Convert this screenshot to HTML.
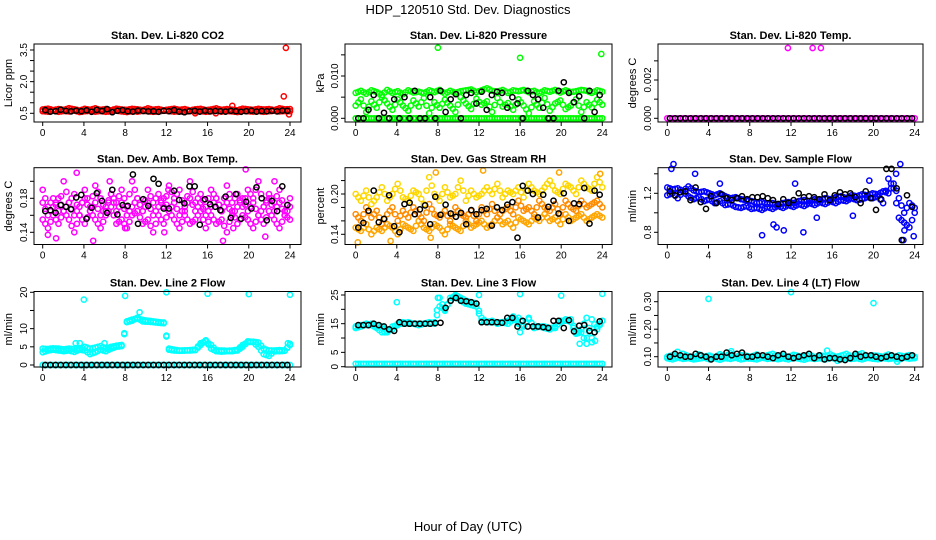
<!DOCTYPE html>
<html><head><meta charset="utf-8"><style>
html,body{margin:0;padding:0;background:#fff;}
svg{display:block;font-family:"Liberation Sans",Arial,sans-serif;}
</style></head><body>
<svg id="chart" width="936" height="540" viewBox="0 0 936 540" xmlns="http://www.w3.org/2000/svg">
<rect width="936" height="540" fill="#fff"/>
<text x="468" y="14" font-size="13" text-anchor="middle">HDP_120510  Std. Dev. Diagnostics</text>
<text x="468" y="531" font-size="13" text-anchor="middle">Hour of Day (UTC)</text>
<g id="panels"></g>
</svg>
<script>
// ---- data ----
const xTicks = [0,4,8,12,16,20,24];
const co2Red1 = [0.68,0.72,0.65,0.7,0.66,0.74,0.69,0.63,0.71,0.67,0.73,0.66,0.7,0.64,0.72,0.68,0.66,0.71,0.69,0.65,0.73,0.67,0.7,0.64,0.68,0.72,0.66,0.7,0.63,0.69,0.71,0.65,0.68,0.73,0.66,0.7,0.67,0.64,0.72,0.69,0.66,0.71,0.68,0.7,0.65,0.73,0.69,0.7];
const co2Red2 = [0.6,0.58,0.62,0.57,0.61,0.59,0.63,0.56,0.6,0.62,0.58,0.61,0.57,0.6,0.63,0.59,0.56,0.61,0.58,0.62,0.6,0.57,0.59,0.63,0.61,0.58,0.6,0.56,0.62,0.59,0.61,0.57,0.6,0.63,0.58,0.61,0.59,0.56,0.62,0.6,0.58,0.61,0.57,0.6,0.62,0.59,0.61,0.6];
const co2Black = [0.65,0.58,0.6,0.67,0.62,0.59,0.63,0.6,0.64,0.57,0.66,0.61,0.7,0.55,0.62,0.65,0.6,0.58,0.63,0.61,0.59,0.6,0.57,0.62,0.6,0.65,0.58,0.55,0.6,0.62,0.58,0.63,0.59,0.61,0.6,0.58,0.62,0.6,0.57,0.6,0.63,0.58,0.61,0.6,0.62,0.59,0.63,0.62];
const co2Out = [[23.6,3.6],[23.4,1.3],[18.4,0.85],[23.9,0.45],[14.8,0.5],[16.8,0.5]];

const presHi = [0.006,0.0065,0.0058,0.0066,0.0062,0.0055,0.0067,0.006,0.0064,0.0057,0.0066,0.0061,0.0063,0.0059,0.0066,0.0062,0.0067,0.0058,0.0065,0.006,0.0064,0.0066,0.0068,0.0062,0.0066,0.0071,0.0065,0.0063,0.0067,0.006,0.0066,0.0064,0.0067,0.0062,0.0065,0.0059,0.0066,0.0063,0.0067,0.0061,0.0066,0.0062,0.0064,0.0067,0.0065,0.006,0.0066,0.0063];
const presMid = [0.003,0.0045,0.0015,0.004,0.0025,0.005,0.0035,0.002,0.0045,0.003,0.0018,0.0042,0.0028,0.0048,0.0012,0.0038,0.0025,0.0044,0.003,0.0015,0.005,0.0035,0.0022,0.0046,0.0032,0.004,0.0015,0.0048,0.0028,0.0036,0.002,0.0045,0.003,0.0012,0.004,0.0025,0.0048,0.0018,0.0035,0.0042,0.0022,0.003,0.0045,0.0015,0.0038,0.0026,0.0044,0.0032];
const presZero = [0,0,0,0,0,0,0,0,0,0,0,0,0,0,0,0,0,0,0,0,0,0,0,0,0,0,0,0,0,0,0,0,0,0,0,0,0,0,0,0,0,0,0,0,0,0,0,0];
const presBlack = [0,0,0.002,0.0055,0,0.0013,0,0.0045,0,0.005,0,0.0065,0,0,0.005,0,0.0065,0.0015,0.0045,0.0057,0,0.0055,0.006,0.0035,0.0063,0.002,0.0055,0.0063,0.006,0.0025,0.005,0.0035,0,0.0065,0.0055,0.0045,0.0025,0,0,0.0065,0.0085,0.006,0.0038,0.0052,0,0.0065,0.0015,0.0055];
const presOut = [[8,0.0167],[16,0.0143],[23.9,0.0152]];

const tempMag = [0,0,0,0,0,0,0,0,0,0,0,0,0,0,0,0,0,0,0,0,0,0,0,0,0,0,0,0,0,0,0,0,0,0,0,0,0,0,0,0,0,0,0,0,0,0,0,0];
const tempBlack = [0,0,0,0,0,0,0,0,0,0,0,0,0,0,0,0,0,0,0,0,0,0,0,0,0,0,0,0,0,0,0,0,0,0,0,0,0,0,0,0,0,0,0,0,0,0,0,0];
const tempOut = [[11.7,0.00367],[14.1,0.00367],[14.9,0.00367]];

const ambA = [0.19,0.17,0.18,0.165,0.2,0.175,0.185,0.16,0.19,0.17,0.195,0.18,0.165,0.185,0.175,0.19,0.17,0.2,0.18,0.165,0.19,0.175,0.185,0.17,0.195,0.18,0.19,0.165,0.2,0.175,0.185,0.17,0.19,0.18,0.165,0.195,0.175,0.185,0.17,0.19,0.18,0.2,0.17,0.185,0.175,0.19,0.165,0.18];
const ambB = [0.155,0.145,0.16,0.15,0.165,0.155,0.14,0.16,0.15,0.165,0.155,0.145,0.16,0.17,0.15,0.155,0.145,0.16,0.165,0.15,0.155,0.14,0.16,0.15,0.165,0.155,0.145,0.16,0.15,0.155,0.165,0.145,0.16,0.15,0.155,0.14,0.165,0.15,0.16,0.155,0.145,0.16,0.15,0.165,0.155,0.145,0.16,0.155];
const ambC = [0.175,0.16,0.17,0.18,0.165,0.175,0.16,0.17,0.18,0.165,0.175,0.16,0.17,0.185,0.165,0.175,0.16,0.17,0.18,0.165,0.175,0.16,0.17,0.18,0.165,0.175,0.16,0.17,0.18,0.165,0.175,0.16,0.17,0.18,0.165,0.175,0.16,0.17,0.18,0.165,0.175,0.16,0.17,0.18,0.165,0.175,0.16,0.17];
const ambBlack = [0.165,0.166,0.163,0.172,0.17,0.167,0.181,0.184,0.156,0.169,0.186,0.177,0.163,0.19,0.161,0.172,0.171,0.208,0.15,0.179,0.171,0.203,0.197,0.168,0.168,0.189,0.178,0.174,0.194,0.194,0.149,0.179,0.173,0.17,0.166,0.182,0.157,0.185,0.156,0.176,0.168,0.193,0.18,0.154,0.177,0.165,0.194,0.172];
const ambOut = [[0.5,0.137],[1.3,0.133],[3.3,0.21],[6.5,0.2],[12.2,0.19],[18.5,0.145],[21.6,0.135],[17.5,0.13],[11.8,0.14],[4.9,0.13],[19.7,0.214],[22.5,0.2],[8,0.145]];

const rhOrA = [0.17,0.16,0.18,0.165,0.175,0.155,0.17,0.18,0.16,0.175,0.165,0.18,0.17,0.16,0.185,0.17,0.165,0.175,0.16,0.18,0.17,0.165,0.175,0.16,0.18,0.17,0.185,0.165,0.175,0.18,0.17,0.19,0.175,0.18,0.17,0.19,0.18,0.175,0.185,0.17,0.19,0.18,0.175,0.19,0.18,0.185,0.19,0.18];
const rhOrB = [0.15,0.145,0.155,0.14,0.15,0.145,0.155,0.15,0.14,0.155,0.15,0.145,0.16,0.15,0.145,0.155,0.15,0.14,0.155,0.15,0.145,0.16,0.15,0.155,0.16,0.15,0.155,0.165,0.155,0.16,0.15,0.165,0.16,0.155,0.165,0.16,0.17,0.16,0.165,0.155,0.17,0.16,0.165,0.17,0.16,0.165,0.17,0.165];
const rhYel = [0.2,0.19,0.205,0.185,0.195,0.21,0.19,0.2,0.215,0.195,0.19,0.205,0.2,0.185,0.225,0.2,0.19,0.21,0.195,0.2,0.22,0.19,0.205,0.195,0.2,0.21,0.2,0.215,0.195,0.205,0.2,0.21,0.195,0.215,0.205,0.2,0.21,0.22,0.205,0.2,0.215,0.21,0.2,0.22,0.21,0.205,0.225,0.21];
const rhBlack = [0.15,0.157,0.175,0.205,0.158,0.163,0.198,0.152,0.143,0.185,0.187,0.17,0.177,0.183,0.155,0.196,0.169,0.184,0.171,0.166,0.172,0.155,0.176,0.17,0.176,0.178,0.153,0.18,0.176,0.184,0.188,0.135,0.212,0.205,0.2,0.165,0.199,0.181,0.19,0.171,0.201,0.16,0.186,0.185,0.209,0.156,0.205,0.199];
const rhOut = [[0.2,0.128],[7.3,0.135],[7.8,0.232],[12.4,0.235],[19.8,0.232],[23.8,0.23],[3.4,0.13]];

const sfA = [1.26,1.24,1.25,1.22,1.27,1.23,1.21,1.22,1.2,1.18,1.2,1.17,1.15,1.16,1.14,1.13,1.12,1.1,1.11,1.09,1.1,1.08,1.1,1.11,1.1,1.12,1.13,1.12,1.14,1.13,1.15,1.14,1.16,1.17,1.15,1.18,1.17,1.19,1.18,1.2,1.19,1.22,1.2,1.3,1.15,1.0,1.1,1.05];
const sfB = [1.18,1.2,1.15,1.22,1.17,1.14,1.16,1.12,1.14,1.1,1.12,1.08,1.09,1.06,1.05,1.07,1.04,1.05,1.03,1.06,1.04,1.07,1.05,1.08,1.06,1.09,1.07,1.1,1.08,1.11,1.09,1.12,1.1,1.13,1.12,1.15,1.13,1.14,1.16,1.15,1.17,1.1,1.35,1.25,0.95,0.9,0.85,1.0];
const sfBlack = [1.22,1.18,1.21,1.22,1.13,1.26,1.11,1.04,1.17,1.1,1.19,1.15,1.13,1.15,1.17,1.14,1.16,1.16,1.17,1.15,1.13,1.09,1.14,1.1,1.13,1.2,1.16,1.17,1.16,1.14,1.19,1.13,1.18,1.21,1.19,1.2,1.16,1.1,1.22,1.15,1.03,1.14,1.45,1.45,1.25,0.72,1.18,1.06];
const sfOut = [[0.4,1.45],[0.6,1.5],[2.7,1.4],[10.3,0.88],[10.6,0.85],[9.2,0.77],[13.2,0.8],[18,0.97],[14.5,0.95],[22.6,1.5],[22.9,0.72],[23,0.82],[23.9,0.76],[11.3,0.82],[5.1,1.3],[12.4,1.3],[19.6,1.33],[22.2,1.4]];

const l2A = [4.5,4.4,4.6,4.5,4.3,4.5,4.4,4.5,5,4.5,4.8,5.2,4.5,5,5.3,5.5,12,12.5,12.8,12.4,12.2,12,11.8,11.7,4.5,4.2,4,4,4.1,4.2,6,6.5,5.5,4,4,3.9,4,4.2,5.5,6.3,6.4,6.2,4.5,4,4,4.1,4,5.5];
const l2B = [3.5,4,4.2,4,3.8,4,3.6,4.2,4,3,3.5,4.2,3.8,4.5,5,5.2,11.8,12.2,13,12,11.9,11.8,11.6,11.5,4.2,4,3.9,4,4,4.1,5.5,6.8,4.5,3.8,3.7,3.8,3.8,4,5,6.5,6.3,5,3,2.5,3.8,3.8,3.9,5.8];
const l2Zero = [0,0,0,0,0,0,0,0,0,0,0,0,0,0,0,0,0,0,0,0,0,0,0,0,0,0,0,0,0,0,0,0,0,0,0,0,0,0,0,0,0,0,0,0,0,0,0,0];
const l2Black = [0,0,0,0,0,0,0,0,0,0,0,0,0,0,0,0,0,0,0,0,0,0,0,0,0,0,0,0,0,0,0,0,0,0,0,0,0,0,0,0,0,0,0,0,0,0,0,0];
const l2Out = [[4,18],[8,19],[12,20],[16,19.6],[20,19.5],[24,19.3],[3.2,6],[3.6,6],[9.4,14.5],[6,6],[23.8,6]];

const l3A = [14,14.5,14.5,15,14.5,14,12.5,13,15,15,15.5,15,15,15,15.5,15,21,20,23,25,24,23,22.5,22,17,15.5,15.5,15.5,15.5,15,16.5,17,14.5,16.5,14,14,14,13.5,13.5,16,16,16.5,12,13,17,10,14,16];
const l3B = [13.5,14,15,14.5,13.5,12,12,14,14.5,15.5,15,15,14.5,15,15,15.5,24,19.5,24,24.5,23,22,21.5,21,16,15.5,16,15,15.5,16,17.5,15,14,17,13.5,14,13.5,13,14,15.5,16.5,15.5,11.5,12,8,16.5,13,16];
const l3Low = [1,1,1,1,1,1,1,1,1,1,1,1,1,1,1,1,1,1,1,1,1,1,1,1,1,1,1,1,1,1,1,1,1,1,1,1,1,1,1,1,1,1,1,1,1,1,1,1];
const l3Black = [14.5,14.5,14.5,15,14.5,14,13,12.5,15.5,15,15,15,15,15,15,15.2,15.3,20.5,23,24,23,22.8,22.5,22,15.5,15.5,15.5,15.5,15.3,17,17,14,16,14,14,14,13.8,13.5,16,16,13.5,16.2,12.3,14.3,14.5,12.5,12,15.8];
const l3Out = [[4,22.5],[8,24],[12,25],[16,25.3],[20,24.8],[24,25.4],[16,12],[21.8,8],[22.5,10],[23,8.5],[23.3,9]];

const l4A = [0.1,0.105,0.098,0.11,0.102,0.095,0.108,0.1,0.104,0.097,0.109,0.101,0.112,0.099,0.106,0.103,0.1,0.108,0.096,0.105,0.11,0.1,0.104,0.098,0.107,0.102,0.1,0.109,0.097,0.105,0.101,0.108,0.099,0.104,0.11,0.1,0.106,0.112,0.098,0.105,0.103,0.1,0.108,0.097,0.105,0.101,0.106,0.1];
const l4B = [0.094,0.09,0.097,0.092,0.095,0.09,0.093,0.096,0.091,0.094,0.089,0.095,0.092,0.096,0.09,0.094,0.093,0.09,0.097,0.092,0.095,0.091,0.094,0.09,0.096,0.093,0.089,0.095,0.092,0.094,0.09,0.096,0.093,0.091,0.095,0.092,0.094,0.09,0.096,0.093,0.091,0.095,0.092,0.094,0.09,0.096,0.093,0.095];
const l4Black = [0.1,0.11,0.105,0.1,0.1,0.11,0.105,0.1,0.09,0.1,0.1,0.115,0.105,0.11,0.115,0.1,0.1,0.105,0.105,0.1,0.095,0.105,0.11,0.1,0.095,0.1,0.105,0.11,0.095,0.105,0.09,0.095,0.095,0.09,0.088,0.095,0.11,0.1,0.105,0.105,0.1,0.095,0.1,0.105,0.1,0.095,0.1,0.105];
const l4Out = [[4,0.31],[12,0.335],[20,0.295],[1,0.118],[6.2,0.12],[15.5,0.122],[22.3,0.082],[16.5,0.085]];

// ---- layout ----
const cols = [{l:34,r:301,x0:42.7,x1:290,yt:8},{l:345,r:612,x0:355.7,x1:602.3,yt:320},{l:658,r:923,x0:667.3,x1:914.7,yt:632}];
const rows = [{t:44,b:122},{t:167.7,b:244.5},{t:291.5,b:367}];
const NS = 'http://www.w3.org/2000/svg';
const root = document.getElementById('panels');
function mk(tag, attrs, parent){const e=document.createElementNS(NS,tag);for(const k in attrs)e.setAttribute(k,attrs[k]);parent.appendChild(e);return e;}

const panels = [
 {name:'co2',title:'Stan. Dev. Li-820 CO2',ylab:'Licor ppm',c:0,r:0,v1:0.5,p1:113.3,v2:3.5,p2:50,ticks:[0.5,1,1.5,2,2.5,3,3.5],labels:['0.5','2.0','3.5'],labelVals:[0.5,2,3.5],
  series:[[co2Red1,'#ff0000'],[co2Red2,'#ff0000']],black:co2Black,out:[co2Out,'#ff0000']},
 {name:'pressure',title:'Stan. Dev. Li-820 Pressure',ylab:'kPa',c:1,r:0,v1:0,p1:118.3,v2:0.01,p2:76,ticks:[0,0.005,0.01,0.015],labels:['0.000','0.010'],labelVals:[0,0.01],
  series:[[presZero,'#00ff00'],[presMid,'#00ff00'],[presHi,'#00ff00']],black:presBlack,out:[presOut,'#00ff00']},
 {name:'li820-temp',title:'Stan. Dev. Li-820 Temp.',ylab:'degrees C',c:2,r:0,v1:0,p1:118.3,v2:0.002,p2:80,ticks:[0,0.001,0.002,0.003],labels:['0.000','0.002'],labelVals:[0,0.002],
  series:[[tempMag,'#ff00ff']],black:tempBlack,out:[tempOut,'#ff00ff']},
 {name:'amb-box-temp',title:'Stan. Dev. Amb. Box Temp.',ylab:'degrees C',c:0,r:1,v1:0.14,p1:232.3,v2:0.18,p2:198.3,ticks:[0.14,0.16,0.18,0.2],labels:['0.14','0.18'],labelVals:[0.14,0.18],
  series:[[ambA,'#ff00ff'],[ambB,'#ff00ff'],[ambC,'#ff00ff']],black:ambBlack,out:[ambOut,'#ff00ff']},
 {name:'gas-stream-rh',title:'Stan. Dev. Gas Stream RH',ylab:'percent',c:1,r:1,v1:0.14,p1:234.3,v2:0.2,p2:194,ticks:[0.14,0.16,0.18,0.2,0.22],labels:['0.14','0.20'],labelVals:[0.14,0.2],
  series:[[rhOrB,'#ffa500'],[rhOrA,'#ff8c00'],[rhYel,'#ffd700']],black:rhBlack,out:[rhOut,'#ffa500']},
 {name:'sample-flow',title:'Stan. Dev. Sample Flow',ylab:'ml/min',c:2,r:1,v1:0.8,p1:232.3,v2:1.2,p2:193.3,ticks:[0.8,1,1.2,1.4],labels:['0.8','1.2'],labelVals:[0.8,1.2],
  series:[[sfB,'#0000ff'],[sfA,'#0000ff']],black:sfBlack,out:[sfOut,'#0000ff']},
 {name:'line2-flow',title:'Stan. Dev. Line 2 Flow',ylab:'ml/min',c:0,r:2,v1:0,p1:365,v2:20,p2:292.3,ticks:[0,5,10,15,20],labels:['0','5','10','20'],labelVals:[0,5,10,20],
  series:[[l2Zero,'#00ffff'],[l2B,'#00ffff'],[l2A,'#00ffff']],black:l2Black,out:[l2Out,'#00ffff']},
 {name:'line3-flow',title:'Stan. Dev. Line 3 Flow',ylab:'ml/min',c:1,r:2,v1:0,p1:366.7,v2:25,p2:295,ticks:[0,5,10,15,20,25],labels:['0','5','15','25'],labelVals:[0,5,15,25],
  series:[[l3Low,'#00ffff'],[l3B,'#00ffff'],[l3A,'#00ffff']],black:l3Black,out:[l3Out,'#00ffff']},
 {name:'line4-flow',title:'Stan. Dev. Line 4 (LT) Flow',ylab:'ml/min',c:2,r:2,v1:0.1,p1:356.7,v2:0.3,p2:301.7,ticks:[0.1,0.15,0.2,0.25,0.3],labels:['0.10','0.20','0.30'],labelVals:[0.1,0.2,0.3],
  series:[[l4B,'#00ffff'],[l4A,'#00ffff']],black:l4Black,out:[l4Out,'#00ffff']}
];

panels.forEach(P=>{
  const C=cols[P.c], R=rows[P.r];
  const xs = h => C.x0 + (C.x1-C.x0)*h/24;
  const ys = v => P.p1 + (P.p2-P.p1)*(v-P.v1)/(P.v2-P.v1);
  const g = mk('g',{},root);
  
  
  const t = mk('text',{x:(C.l+C.r)/2,y:R.t-5,'font-size':11,'font-weight':'bold','text-anchor':'middle'},g);
  t.textContent=P.title;
  
  
  const yl = mk('text',{x:0,y:0,'font-size':11,'text-anchor':'middle',transform:`translate(${C.yt+4},${(R.t+R.b)/2}) rotate(-90)`},g);
  yl.textContent=P.ylab;
  
  
  // points
  const pts = mk('g',{fill:'none','stroke-width':1.5},g);
  
  
  const dot=(h,v,col)=>{const c=mk('circle',{cx:xs(h).toFixed(1),cy:ys(v).toFixed(1),r:2.6,stroke:col},pts);
    
    };
  P.series.forEach(([arr,col])=>{arr.forEach((v,i)=>dot(i*24/(arr.length-1),v,col));
    arr.forEach((v,i)=>{if(i<arr.length-1)dot((i+0.5)*24/(arr.length-1),(v+arr[i+1])/2,col);});});
  P.out[0].forEach(([h,v])=>dot(h,v,P.out[1]));
  P.black.forEach((v,i)=>dot(0.25+i*0.5,v,'#000'));
  // box
  const box = mk('rect',{x:C.l,y:R.t,width:C.r-C.l,height:R.b-R.t,fill:'none',stroke:'#000','stroke-width':1},g);
  
  
  // x axis
  const xa = mk('g',{},g);
  
  
  xTicks.forEach(h=>{
    mk('line',{x1:xs(h),x2:xs(h),y1:R.b,y2:R.b+4,stroke:'#000'},xa);
    const tx=mk('text',{x:xs(h),y:R.b+14,'font-size':10,'text-anchor':'middle'},xa);tx.textContent=h;
  });
  const ya = mk('g',{},g);
  
  
  P.ticks.forEach(v=>mk('line',{x1:C.l-4,x2:C.l,y1:ys(v),y2:ys(v),stroke:'#000'},ya));
  P.labels.forEach((lab,i)=>{
    const y=ys(P.labelVals[i]);
    const tx=mk('text',{x:0,y:0,'font-size':10,'text-anchor':'middle',transform:`translate(${C.l-7},${y}) rotate(-90)`},ya);tx.textContent=lab;
  });
});
</script>
</body></html>
